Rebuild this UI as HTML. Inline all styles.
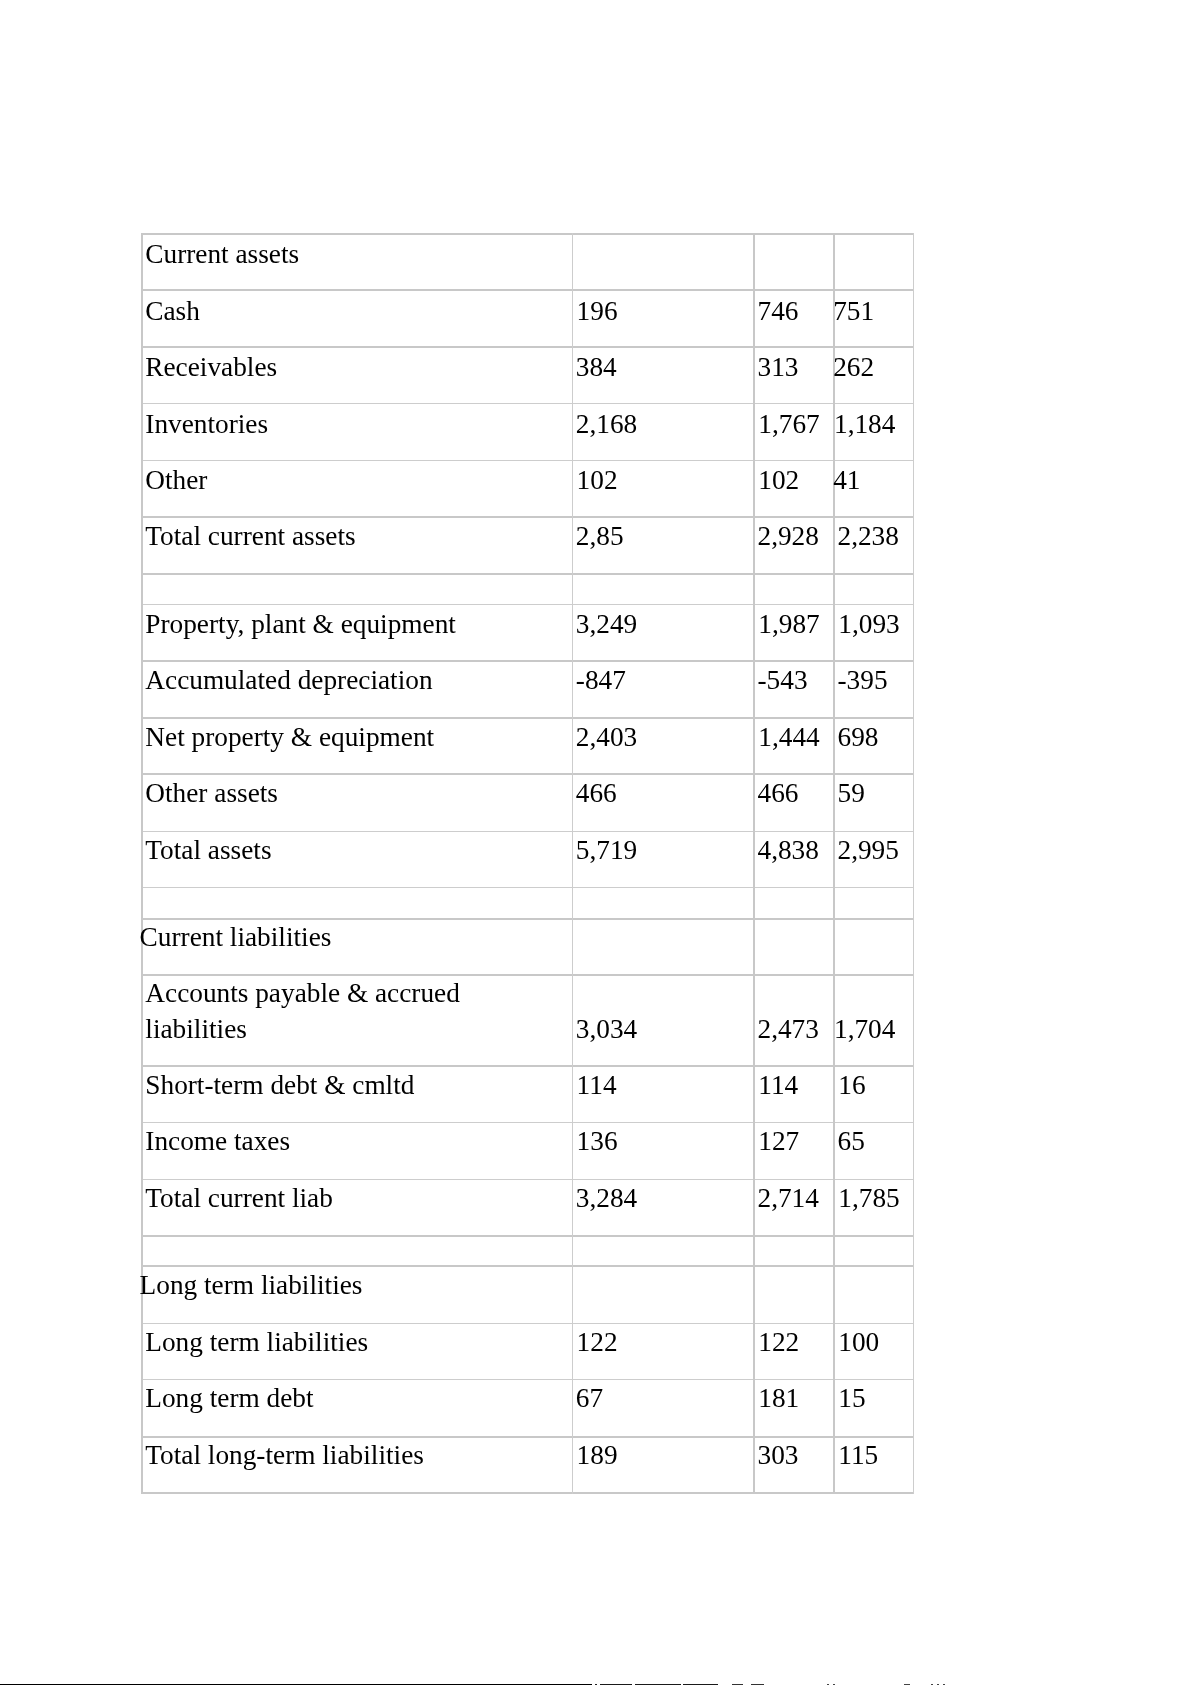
<!DOCTYPE html>
<html><head><meta charset="utf-8"><title>Balance sheet</title>
<style>
html,body{margin:0;padding:0;background:#fff;}
body{width:1191px;height:1685px;position:relative;overflow:hidden;}
.t{position:absolute;font-family:"Liberation Serif",serif;font-size:27.3px;line-height:40px;color:#000;white-space:nowrap;}
.h{position:absolute;left:141px;width:773px;background:#c8c8c8;}
.v{position:absolute;top:233px;height:1261px;background:#c8c8c8;}
#tx{position:absolute;left:0;top:0;width:1191px;height:1685px;will-change:transform;}
.ft{position:absolute;top:1684px;height:1px;background:#000;}
</style></head><body>

<div class="h" style="top:233px;height:2px"></div>
<div class="h" style="top:289px;height:2px"></div>
<div class="h" style="top:346px;height:2px"></div>
<div class="h" style="top:403px;height:1px;background:#cdcdcd"></div>
<div class="h" style="top:460px;height:1px;background:#cdcdcd"></div>
<div class="h" style="top:516px;height:2px"></div>
<div class="h" style="top:573px;height:2px"></div>
<div class="h" style="top:604px;height:1px;background:#cdcdcd"></div>
<div class="h" style="top:660px;height:2px"></div>
<div class="h" style="top:717px;height:2px"></div>
<div class="h" style="top:773px;height:2px"></div>
<div class="h" style="top:831px;height:1px;background:#cdcdcd"></div>
<div class="h" style="top:887px;height:1px;background:#cdcdcd"></div>
<div class="h" style="top:918px;height:2px"></div>
<div class="h" style="top:974px;height:2px"></div>
<div class="h" style="top:1065px;height:2px"></div>
<div class="h" style="top:1122px;height:1px;background:#cdcdcd"></div>
<div class="h" style="top:1179px;height:1px;background:#cdcdcd"></div>
<div class="h" style="top:1235px;height:2px"></div>
<div class="h" style="top:1265px;height:2px"></div>
<div class="h" style="top:1323px;height:1px;background:#cdcdcd"></div>
<div class="h" style="top:1379px;height:1px;background:#cdcdcd"></div>
<div class="h" style="top:1436px;height:2px"></div>
<div class="h" style="top:1492px;height:2px"></div>
<div class="v" style="left:141px;width:2px"></div>
<div class="v" style="left:572px;width:1px;background:#cdcdcd"></div>
<div class="v" style="left:753px;width:2px"></div>
<div class="v" style="left:833px;width:2px"></div>
<div class="v" style="left:913px;width:1px;background:#cdcdcd"></div>
<div id="tx">
<div class="t" style="left:145.3px;top:234px">Current assets</div>
<div class="t" style="left:145.3px;top:291px">Cash</div>
<div class="t" style="left:576.6px;top:291px">196</div>
<div class="t" style="left:757.5px;top:291px">746</div>
<div class="t" style="left:833.2px;top:291px">751</div>
<div class="t" style="left:145.3px;top:347px">Receivables</div>
<div class="t" style="left:575.8px;top:347px">384</div>
<div class="t" style="left:757.5px;top:347px">313</div>
<div class="t" style="left:833.2px;top:347px">262</div>
<div class="t" style="left:145.3px;top:404px">Inventories</div>
<div class="t" style="left:575.8px;top:404px">2,168</div>
<div class="t" style="left:758.3px;top:404px">1,767</div>
<div class="t" style="left:834.0px;top:404px">1,184</div>
<div class="t" style="left:145.3px;top:460px">Other</div>
<div class="t" style="left:576.6px;top:460px">102</div>
<div class="t" style="left:758.3px;top:460px">102</div>
<div class="t" style="left:833.2px;top:460px">41</div>
<div class="t" style="left:145.3px;top:516px">Total current assets</div>
<div class="t" style="left:575.8px;top:516px">2,85</div>
<div class="t" style="left:757.5px;top:516px">2,928</div>
<div class="t" style="left:837.5px;top:516px">2,238</div>
<div class="t" style="left:145.3px;top:604px">Property, plant &amp; equipment</div>
<div class="t" style="left:575.8px;top:604px">3,249</div>
<div class="t" style="left:758.3px;top:604px">1,987</div>
<div class="t" style="left:838.3px;top:604px">1,093</div>
<div class="t" style="left:145.3px;top:660px">Accumulated depreciation</div>
<div class="t" style="left:575.8px;top:660px">-847</div>
<div class="t" style="left:757.5px;top:660px">-543</div>
<div class="t" style="left:837.5px;top:660px">-395</div>
<div class="t" style="left:145.3px;top:717px">Net property &amp; equipment</div>
<div class="t" style="left:575.8px;top:717px">2,403</div>
<div class="t" style="left:758.3px;top:717px">1,444</div>
<div class="t" style="left:837.5px;top:717px">698</div>
<div class="t" style="left:145.3px;top:773px">Other assets</div>
<div class="t" style="left:575.8px;top:773px">466</div>
<div class="t" style="left:757.5px;top:773px">466</div>
<div class="t" style="left:837.5px;top:773px">59</div>
<div class="t" style="left:145.3px;top:830px">Total assets</div>
<div class="t" style="left:575.8px;top:830px">5,719</div>
<div class="t" style="left:757.5px;top:830px">4,838</div>
<div class="t" style="left:837.5px;top:830px">2,995</div>
<div class="t" style="left:139.6px;top:917px">Current liabilities</div>
<div class="t" style="left:145.3px;top:973px">Accounts payable &amp; accrued</div>
<div class="t" style="left:145.3px;top:1009px">liabilities</div>
<div class="t" style="left:575.8px;top:1009px">3,034</div>
<div class="t" style="left:757.5px;top:1009px">2,473</div>
<div class="t" style="left:834.0px;top:1009px">1,704</div>
<div class="t" style="left:145.3px;top:1065px">Short-term debt &amp; cmltd</div>
<div class="t" style="left:576.6px;top:1065px">114</div>
<div class="t" style="left:758.3px;top:1065px">114</div>
<div class="t" style="left:838.3px;top:1065px">16</div>
<div class="t" style="left:145.3px;top:1121px">Income taxes</div>
<div class="t" style="left:576.6px;top:1121px">136</div>
<div class="t" style="left:758.3px;top:1121px">127</div>
<div class="t" style="left:837.5px;top:1121px">65</div>
<div class="t" style="left:145.3px;top:1178px">Total current liab</div>
<div class="t" style="left:575.8px;top:1178px">3,284</div>
<div class="t" style="left:757.5px;top:1178px">2,714</div>
<div class="t" style="left:838.3px;top:1178px">1,785</div>
<div class="t" style="left:139.6px;top:1265px">Long term liabilities</div>
<div class="t" style="left:145.3px;top:1322px">Long term liabilities</div>
<div class="t" style="left:576.6px;top:1322px">122</div>
<div class="t" style="left:758.3px;top:1322px">122</div>
<div class="t" style="left:838.3px;top:1322px">100</div>
<div class="t" style="left:145.3px;top:1378px">Long term debt</div>
<div class="t" style="left:575.8px;top:1378px">67</div>
<div class="t" style="left:758.3px;top:1378px">181</div>
<div class="t" style="left:838.3px;top:1378px">15</div>
<div class="t" style="left:145.3px;top:1435px">Total long-term liabilities</div>
<div class="t" style="left:576.6px;top:1435px">189</div>
<div class="t" style="left:757.5px;top:1435px">303</div>
<div class="t" style="left:838.3px;top:1435px">115</div>
</div>
<div class="ft" style="left:0px;width:592px;background:#000"></div>
<div class="ft" style="left:595px;width:2px;background:#222"></div>
<div class="ft" style="left:600px;width:32px;background:#1a1a1a"></div>
<div class="ft" style="left:635px;width:46px;background:#1a1a1a"></div>
<div class="ft" style="left:683px;width:35px;background:#1a1a1a"></div>
<div class="ft" style="left:732px;width:11px;background:#333"></div>
<div class="ft" style="left:751px;width:13px;background:#333"></div>
<div class="ft" style="left:827px;width:2px;background:#444"></div>
<div class="ft" style="left:833px;width:2px;background:#444"></div>
<div class="ft" style="left:904px;width:6px;background:#444"></div>
<div class="ft" style="left:931px;width:2px;background:#444"></div>
<div class="ft" style="left:937px;width:2px;background:#444"></div>
<div class="ft" style="left:943px;width:2px;background:#444"></div>
</body></html>
